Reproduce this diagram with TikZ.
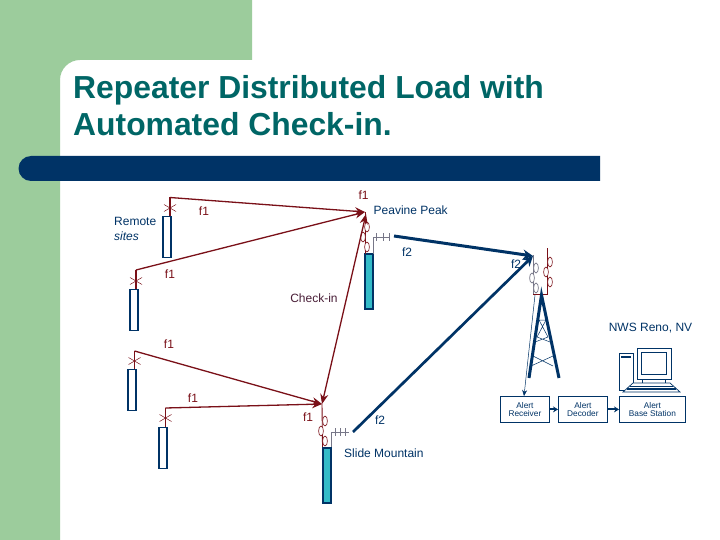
\documentclass[tikz,border=0pt]{standalone}
\usepackage{fontspec}
\setmainfont{Liberation Sans}
\usetikzlibrary{arrows.meta,calc}
\definecolor{green1}{HTML}{9CCC9C}
\definecolor{navy1}{HTML}{003366}
\definecolor{teal1}{HTML}{006666}
\definecolor{red1}{HTML}{7A1018}
\definecolor{mast1}{HTML}{33BBC8}
\definecolor{gray1}{HTML}{777788}
\newcommand{\fs}[1]{\fontsize{#1}{#1}\selectfont}
\tikzset{
 lab/.style={inner sep=0pt,text=navy1,font=\fs{12}},
 flab/.style={inner sep=0pt,text=red1,font=\fs{12}},
 smallbox/.style={draw=navy1,line width=0.8pt,fill=white,inner sep=0pt,align=center,text=navy1,font=\fs{8.3},anchor=north west},
 mastE/.style={draw=navy1,line width=1.8pt,fill=white,inner sep=0pt,anchor=north west,minimum width=8pt,minimum height=41pt,outer sep=0pt},
 mastF/.style={draw=navy1,line width=1.5pt,fill=mast1,inner sep=0pt,anchor=north west,minimum width=8pt,minimum height=55pt,outer sep=0pt},
 redlink/.style={draw=red1,line width=1.3pt},
 redarr/.style={redlink,-{Stealth[length=10pt,width=8pt]}},
 redarrb/.style={redlink,{Stealth[length=10pt,width=8pt]}-{Stealth[length=10pt,width=8pt]}},
 bluearr/.style={draw=navy1,line width=3pt,-{Stealth[length=10pt,width=10pt]}},
 feed/.style={draw=gray1,line width=0.7pt},
 thin1/.style={draw=navy1,line width=0.5pt},
 oval/.style={draw=red1,line width=0.6pt,fill=white},
 ovalg/.style={draw=gray1,line width=0.7pt,fill=white},
 xcross/.style={draw=red1,line width=0.5pt},
 sarr/.style={draw=navy1,line width=2pt,-{Stealth[length=5pt,width=6pt]}},
}
\newcommand{\xmark}[1]{\draw[xcross] ($(#1)+(-6,-3.5)$) -- ($(#1)+(6,3.5)$) ($(#1)+(-6,3.5)$) -- ($(#1)+(6,-3.5)$);}
\newcommand{\ovals}[4]{%
 \draw[#1] (#2,#3+10) ellipse[x radius=2.4pt,y radius=5pt];
 \draw[#1] (#2-4,#3+20) ellipse[x radius=2.4pt,y radius=5pt];
 \draw[#1] (#2,#3+30) ellipse[x radius=2.4pt,y radius=5pt];}
\begin{document}
\begin{tikzpicture}[x=1pt,y=-1pt]
\useasboundingbox (0,0) rectangle (720,540);
\fill[white] (0,0) rectangle (720,540);
\fill[green1] (0,0) -- (252,0) -- (252,60) -- (80,60) arc[start angle=90,end angle=180,radius=20pt] -- (60,540) -- (0,540) -- cycle;
\fill[navy1] (600,156) -- (31,156) arc[start angle=90,end angle=270,radius=12.5pt] -- (600,181) -- cycle;
\node[inner sep=0pt,anchor=west,text=teal1,font=\fontsize{31.85}{34}\selectfont\bfseries] (title1) at (73,90) {Repeater Distributed Load with};
\node[inner sep=0pt,anchor=west,text=teal1,font=\fontsize{31.85}{34}\selectfont\bfseries] (title2) at (73,124) {Automated Check-in.};

% remote masts
\node[mastE] (m1) at (163,216.5) {};
\node[mastE] (m2) at (130,289.5) {};
\node[mastE] (m3) at (128,369.5) {};
\node[mastE] (m4) at (159,427.5) {};
\coordinate (t1) at (170,197.5);
\coordinate (t2) at (136,270);
\coordinate (t3) at (134.5,351);
\coordinate (t4) at (165.5,408);
\coordinate (pk) at (365,212);
\coordinate (sl) at (322,404);
\coordinate (pkb) at (365,254);
\coordinate (slb) at (322.5,447);
\coordinate (pks) at (366,214);
\draw[redlink] (170,216) -- (t1);
\draw[redlink] (136,289) -- (t2);
\draw[redlink] (134.5,369) -- (t3);
\draw[redlink] (165.5,427) -- (t4);
\xmark{170,208}
\xmark{136,281}
\xmark{134.5,361}
\xmark{165.5,418}

% peavine
\node[mastF] (pm) at (365,254) {};
\draw[redlink,line width=0.9pt] (pk) -- (pkb);
\ovals{oval}{367}{217}{}
\draw[feed] (373,254) -- (373,237) -- (390,237);
\draw[feed] (376,233) -- (376,241) (383,233) -- (383,241) (389,233) -- (389,241);

% slide
\node[mastF] (sm) at (323,448) {};
\draw[redlink,line width=0.9pt] (sl) -- (slb);
\ovals{oval}{325}{411}{}
\draw[feed] (331,447) -- (331,432) -- (349,432);
\draw[feed] (335,428) -- (335,436) (340,428) -- (340,436) (345,428) -- (345,436);

% red links
\draw[redarr] (t1) -- (pk);
\draw[redarr] (t2) -- (pk);
\draw[redarr] (t3) -- (sl);
\draw[redarr] (t4) -- (sl);
\draw[redarrb] (pks) -- (sl);

% repeater
\coordinate (rp) at (533,256);
\draw[feed] (533,255) -- (533,294);
\draw[redlink,line width=0.7pt] (547,248) -- (547,294);
\draw[red1,line width=0.7pt] (533,294) -- (548,294);
\ovals{ovalg}{536}{258}{}
\ovals{oval}{550}{252}{}
\draw[bluearr] (394,236) -- (rp);
\draw[bluearr,line width=2.7pt] (353,432) -- (rp);

% tower
\coordinate (apex) at (541.5,295);
\draw[navy1,line width=3pt] (529,378) -- (apex) -- (559,378);
\draw[thin1] (539,320) -- (546,320) (539,320) -- (548,337) (546,320) -- (537,337)
 (537,337) -- (550,342) (548,337) -- (535,342)
 (533,356) -- (553,366) (553,356) -- (531,366);
\draw[thin1,-{Stealth[length=6pt,width=5pt]}] (535,295) -- (524,396);

% boxes
\node[smallbox,minimum width=49pt,minimum height=26pt] (rx) at (500,396) {Alert\\Receiver};
\node[smallbox,minimum width=49pt,minimum height=26pt] (dc) at (558,396) {Alert\\Decoder};
\node[smallbox,minimum width=66pt,minimum height=26pt] (bs) at (619,396) {Alert\\Base Station};
\draw[sarr] (rx) -- (dc);
\draw[sarr] (dc) -- (bs);

% computer
\draw[navy1,line width=0.7pt,fill=white] (619.5,353) rectangle (633,390.5);
\fill[navy1] (621,355.5) rectangle (631,357.5);
\draw[navy1,line width=0.7pt,fill=white] (637,348.5) rectangle (671,379);
\draw[navy1,line width=0.7pt] (641.5,352.5) rectangle (666,374);
\draw[navy1,line width=0.7pt,fill=white] (642,379) rectangle (665,383);
\draw[navy1,line width=0.7pt,fill=white] (623,392) -- (680,392) -- (670,383) -- (633,383) -- cycle;
\draw[navy1,line width=0.7pt] (630,386) -- (673,386);
\draw[navy1,line width=1.3pt] (627,389) -- (676,389);

% labels
\node[flab] (f0) at (363.5,195) {f1};
\node[lab,anchor=west] (pp) at (373.5,210) {Peavine Peak};
\node[flab] (f1a) at (204,211) {f1};
\node[lab,anchor=west] (rs1) at (114,221) {Remote};
\node[lab,anchor=center,font=\fs{12}\itshape] (rs2) at (126.5,236) {sites};
\node[lab] (f2a) at (407,252) {f2};
\node[lab] (f2b) at (516,264) {f2};
\node[flab] (f1b) at (170,274) {f1};
\node[lab,text=red1!60!navy1] (chk) at (314,298) {Check-in};
\node[lab] (nws) at (650.5,328) {NWS Reno, NV};
\node[flab] (f1c) at (169,344) {f1};
\node[flab] (f1d) at (193,398) {f1};
\node[flab] (f1e) at (308,417) {f1};
\node[lab] (f2c) at (380,420) {f2};
\node[lab,anchor=west] (sm2) at (344,453) {Slide Mountain};
\end{tikzpicture}
\end{document}
